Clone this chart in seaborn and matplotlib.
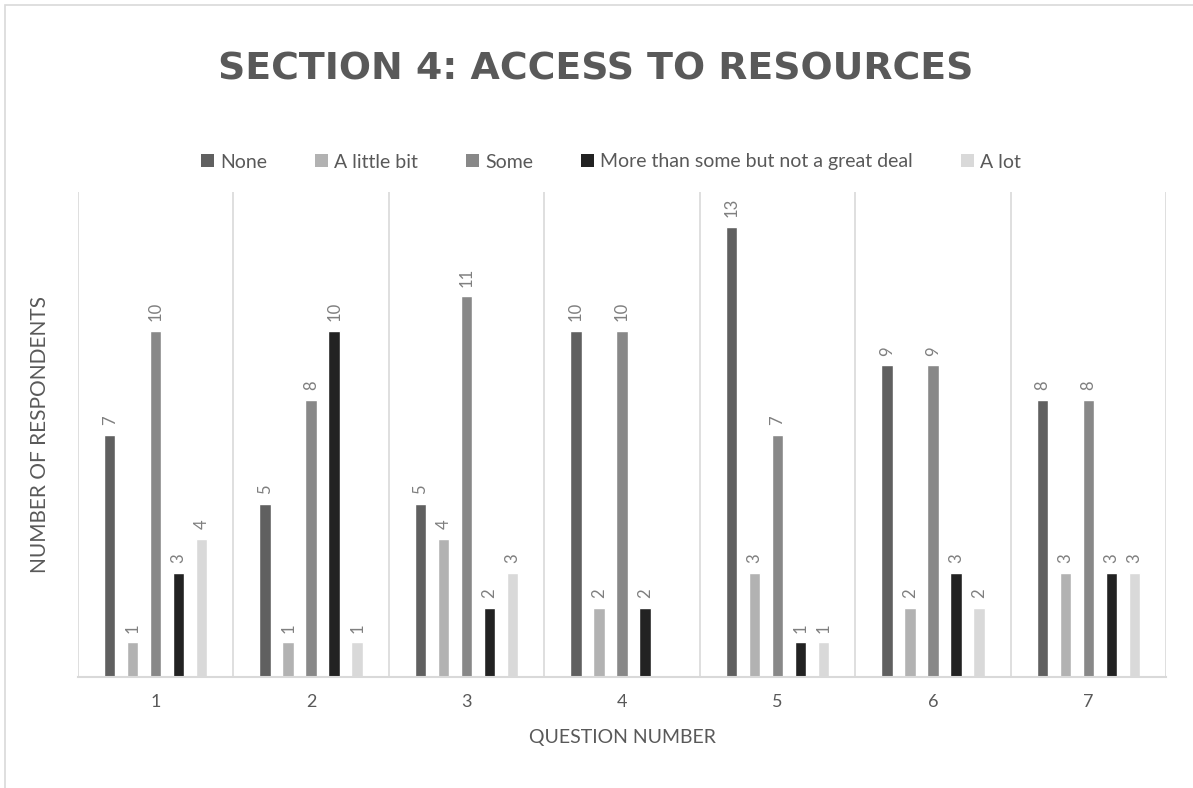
import matplotlib
matplotlib.use("Agg")
import matplotlib.pyplot as plt
from matplotlib.patches import Rectangle, Patch
import seaborn as sns
import pandas as pd

# Survey responses per question
questions = ["1", "2", "3", "4", "5", "6", "7"]
categories = ["None", "A little bit", "Some",
              "More than some but not a great deal", "A lot"]
none_vals = [7, 5, 5, 10, 13, 9, 8]
little_vals = [1, 1, 4, 2, 3, 2, 3]
some_vals = [10, 8, 11, 10, 7, 9, 8]
more_vals = [3, 10, 2, 2, 1, 3, 3]
alot_vals = [4, 1, 3, 0, 1, 2, 3]
colors = ["#606060", "#b2b2b2", "#888888", "#222222", "#d9d9d9"]

series = [none_vals, little_vals, some_vals, more_vals, alot_vals]
rows = []
for cat, vals in zip(categories, series):
    for q, v in zip(questions, vals):
        rows.append({"Question": q, "Response": cat, "Count": v})
df = pd.DataFrame(rows)

sns.set_theme(style="white")
plt.rcParams["font.family"] = ["Lato", "DejaVu Sans"]

W, H = 1193, 788
fig = plt.figure(figsize=(W / 100, H / 100), dpi=100)
ax = fig.add_axes([78 / W, (H - 677) / H, (1166 - 78) / W, 484.6 / H])

sns.barplot(data=df, x="Question", y="Count", hue="Response",
            hue_order=categories, order=questions, palette=colors,
            width=0.74, gap=0.5, saturation=1, ax=ax, legend=False)

for cont in ax.containers:
    labels = [f"{int(b.get_height())}" if b.get_height() > 0 else ""
              for b in cont]
    ax.bar_label(cont, labels=labels, rotation=90, padding=7,
                 color="#7f7f7f", fontsize=12)

ax.set_xlim(-0.5, 6.5)
ax.set_ylim(0, 14)
for x in [i - 0.5 for i in range(len(questions) + 1)]:
    ax.axvline(x, color="#d9d9d9", lw=1.2, zorder=0)
ax.set_yticks([])
for s in ["top", "right", "left"]:
    ax.spines[s].set_visible(False)
ax.spines["bottom"].set_color("#d9d9d9")
ax.spines["bottom"].set_linewidth(1.5)
ax.tick_params(axis="x", length=0, pad=12, labelsize=13, labelcolor="#595959")
ax.set_xlabel("QUESTION NUMBER", fontsize=14, color="#595959", labelpad=14)
ax.set_ylabel("NUMBER OF RESPONDENTS", fontsize=15, color="#595959",
              labelpad=20)

fig.text(0.499, (H - 69) / H, "SECTION 4: ACCESS TO RESOURCES",
         ha="center", va="center", fontsize=27.3, fontweight="bold",
         color="#595959", family=["DejaVu Sans"])

handles = [Patch(facecolor=c, edgecolor="none") for c in colors]
fig.legend(handles, categories, loc="center", ncol=5,
           bbox_to_anchor=(611 / W, (H - 162) / H), frameon=False,
           fontsize=14, handlelength=0.65, handleheight=0.65,
           handletextpad=0.3, columnspacing=2.5, labelcolor="#595959")

fig.patches.append(Rectangle((5 / W, -0.1), 1.2, (H - 5) / H + 0.1,
                             transform=fig.transFigure, fill=False,
                             edgecolor="#d9d9d9", lw=1.2))

fig.savefig("out.png", dpi=100, facecolor="white")
